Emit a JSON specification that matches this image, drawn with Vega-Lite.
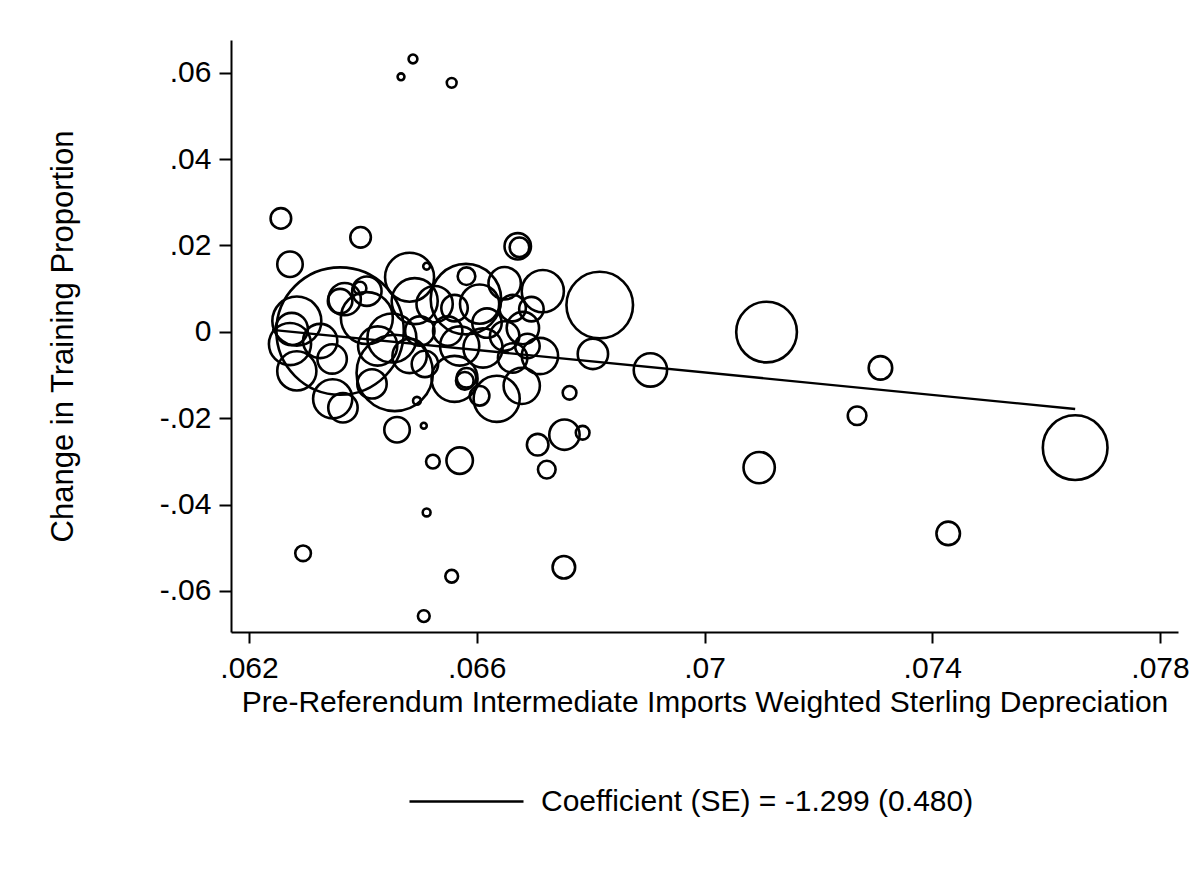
{
  "$schema": "https://vega.github.io/schema/vega-lite/v6.json",
  "width": 947,
  "height": 592,
  "autosize": {"type": "none"},
  "padding": {"left": 231, "top": 40, "right": 25, "bottom": 247},
  "background": "white",
  "config": {
    "view": {"stroke": null},
    "font": "Liberation Sans",
    "axis": {
      "grid": false,
      "domainColor": "black",
      "domainWidth": 2,
      "tickColor": "black",
      "tickWidth": 2,
      "labelColor": "black",
      "titleColor": "black",
      "labelFont": "Liberation Sans",
      "titleFont": "Liberation Sans",
      "labelFontSize": 30,
      "titleFontSize": 30,
      "titleFontWeight": "normal"
    }
  },
  "datasets": {
    "pts": [
      {"x": 0.06467, "y": 0.05904, "w": 0.49},
      {"x": 0.06488, "y": 0.06319, "w": 0.81},
      {"x": 0.06556, "y": 0.05765, "w": 1.0},
      {"x": 0.06256, "y": 0.02626, "w": 4.41},
      {"x": 0.06272, "y": 0.01565, "w": 6.76},
      {"x": 0.06396, "y": 0.02188, "w": 4.41},
      {"x": 0.06816, "y": 0.00619, "w": 46.2},
      {"x": 0.07109, "y": -0.00005, "w": 38.4},
      {"x": 0.06905, "y": -0.00882, "w": 11.6},
      {"x": 0.06804, "y": -0.00512, "w": 9.6},
      {"x": 0.06763, "y": -0.01412, "w": 1.96},
      {"x": 0.06786, "y": -0.02336, "w": 1.96},
      {"x": 0.06754, "y": -0.02382, "w": 9.6},
      {"x": 0.06707, "y": -0.02613, "w": 4.84},
      {"x": 0.06723, "y": -0.0319, "w": 3.24},
      {"x": 0.07309, "y": -0.00835, "w": 5.76},
      {"x": 0.07268, "y": -0.01943, "w": 3.61},
      {"x": 0.07651, "y": -0.02682, "w": 43.6},
      {"x": 0.07096, "y": -0.03143, "w": 10.2},
      {"x": 0.07428, "y": -0.04667, "w": 5.76},
      {"x": 0.06753, "y": -0.05451, "w": 5.29},
      {"x": 0.06295, "y": -0.05128, "w": 2.56},
      {"x": 0.06556, "y": -0.05659, "w": 1.69},
      {"x": 0.06507, "y": -0.06582, "w": 1.44},
      {"x": 0.06512, "y": -0.04182, "w": 0.64},
      {"x": 0.06523, "y": -0.03005, "w": 1.96},
      {"x": 0.0657, "y": -0.02982, "w": 7.29},
      {"x": 0.0646, "y": -0.02266, "w": 6.76},
      {"x": 0.06507, "y": -0.02174, "w": 0.36},
      {"x": 0.06512, "y": 0.01519, "w": 0.49},
      {"x": 0.06672, "y": 0.0198, "w": 7.29},
      {"x": 0.06675, "y": 0.01957, "w": 4.0},
      {"x": 0.0636, "y": 0.00018, "w": 169},
      {"x": 0.06482, "y": 0.01265, "w": 25},
      {"x": 0.06581, "y": 0.00757, "w": 51.8},
      {"x": 0.06716, "y": 0.00942, "w": 18.5},
      {"x": 0.06582, "y": 0.01288, "w": 3.24},
      {"x": 0.06649, "y": 0.01126, "w": 10.9},
      {"x": 0.06696, "y": 0.00526, "w": 6.25},
      {"x": 0.06663, "y": 0.00549, "w": 7.29},
      {"x": 0.06605, "y": 0.00642, "w": 16},
      {"x": 0.06681, "y": 0.00088, "w": 10.9},
      {"x": 0.06711, "y": -0.00559, "w": 13.7},
      {"x": 0.06679, "y": -0.01251, "w": 13.7},
      {"x": 0.06635, "y": -0.01551, "w": 22.1},
      {"x": 0.06611, "y": -0.00374, "w": 16},
      {"x": 0.06582, "y": -0.01066, "w": 4},
      {"x": 0.06605, "y": -0.01482, "w": 4},
      {"x": 0.06495, "y": -0.01597, "w": 0.64},
      {"x": 0.06456, "y": -0.00951, "w": 60.8},
      {"x": 0.06561, "y": -0.01089, "w": 22.1},
      {"x": 0.06579, "y": -0.01135, "w": 3.24},
      {"x": 0.06509, "y": -0.00743, "w": 7.29},
      {"x": 0.06272, "y": -0.00282, "w": 18.5},
      {"x": 0.06284, "y": -0.00905, "w": 16},
      {"x": 0.06346, "y": -0.00628, "w": 9},
      {"x": 0.06347, "y": -0.01551, "w": 16},
      {"x": 0.06365, "y": -0.01759, "w": 9},
      {"x": 0.0636, "y": 0.00711, "w": 6.25},
      {"x": 0.06284, "y": 0.00249, "w": 25},
      {"x": 0.06275, "y": 0.00065, "w": 10.9},
      {"x": 0.06395, "y": 0.01011, "w": 1.69},
      {"x": 0.06407, "y": 0.00942, "w": 9},
      {"x": 0.06368, "y": 0.00757, "w": 10.9},
      {"x": 0.06491, "y": 0.00711, "w": 22.1},
      {"x": 0.06407, "y": 0.00318, "w": 28.1},
      {"x": 0.06451, "y": -0.00143, "w": 25},
      {"x": 0.06426, "y": -0.00328, "w": 16},
      {"x": 0.06526, "y": 0.00642, "w": 13.7},
      {"x": 0.06561, "y": 0.00549, "w": 7.29},
      {"x": 0.06549, "y": 0.00018, "w": 9},
      {"x": 0.0657, "y": -0.00328, "w": 16},
      {"x": 0.06649, "y": -0.00097, "w": 9},
      {"x": 0.06663, "y": -0.00605, "w": 9},
      {"x": 0.06482, "y": -0.00559, "w": 12.25},
      {"x": 0.06416, "y": -0.01205, "w": 9},
      {"x": 0.065, "y": 0.00018, "w": 9},
      {"x": 0.06325, "y": -0.00212, "w": 12.25},
      {"x": 0.06618, "y": 0.00203, "w": 9},
      {"x": 0.06689, "y": -0.00328, "w": 6.25}
    ],
    "fit": [
      {"x": 0.062404, "y": 0.00046, "series": "Coefficient (SE) = -1.299 (0.480)"},
      {"x": 0.07651, "y": -0.01786, "series": "Coefficient (SE) = -1.299 (0.480)"}
    ]
  },
  "layer": [
    {
      "data": {"name": "pts"},
      "mark": {"type": "point", "shape": "circle", "filled": false, "stroke": "black", "strokeWidth": 2.6, "opacity": 1},
      "encoding": {
        "x": {
          "field": "x", "type": "quantitative",
          "scale": {"domain": [0.061684, 0.078316], "nice": false, "zero": false},
          "axis": {
            "values": [0.062, 0.066, 0.07, 0.074, 0.078],
            "labelExpr": "replace(replace(format(datum.value, '.3~f'), '0.', '.'), '\u2212', '-')",
            "tickSize": 11,
            "labelPadding": 10,
            "title": "Pre-Referendum Intermediate Imports Weighted Sterling Depreciation",
            "titlePadding": 4,
            "labelFlush": false,
            "labelOverlap": false
          }
        },
        "y": {
          "field": "y", "type": "quantitative",
          "scale": {"domain": [-0.0695, 0.06757], "nice": false, "zero": false},
          "axis": {
            "values": [-0.06, -0.04, -0.02, 0, 0.02, 0.04, 0.06],
            "labelExpr": "datum.value == 0 ? '0' : replace(replace(format(datum.value, '.3~f'), '0.', '.'), '\u2212', '-')",
            "tickSize": 12,
            "labelPadding": 8,
            "title": "Change in Training Proportion",
            "titleFontSize": 31,
            "titlePadding": 80,
            "labelFlush": false,
            "labelOverlap": false
          }
        },
        "size": {
          "field": "w", "type": "quantitative",
          "scale": {"type": "linear", "domain": [0, 100], "range": [0, 9600], "zero": true},
          "legend": null
        }
      }
    },
    {
      "data": {"name": "fit"},
      "mark": {"type": "line", "strokeWidth": 2.4},
      "encoding": {
        "x": {"field": "x", "type": "quantitative"},
        "y": {"field": "y", "type": "quantitative"},
        "color": {
          "field": "series", "type": "nominal",
          "scale": {"range": ["black"]},
          "legend": {
            "title": null,
            "orient": "none",
            "legendX": 177,
            "legendY": 703,
            "symbolType": "stroke",
            "symbolSize": 13000,
            "symbolStrokeWidth": 2.4,
            "symbolStrokeColor": "black",
            "labelFont": "Liberation Sans",
            "labelFontSize": 30,
            "labelColor": "black",
            "labelLimit": 0,
            "labelOffset": 16,
            "padding": 0,
            "symbolOffset": 0
          }
        }
      }
    }
  ]
}
